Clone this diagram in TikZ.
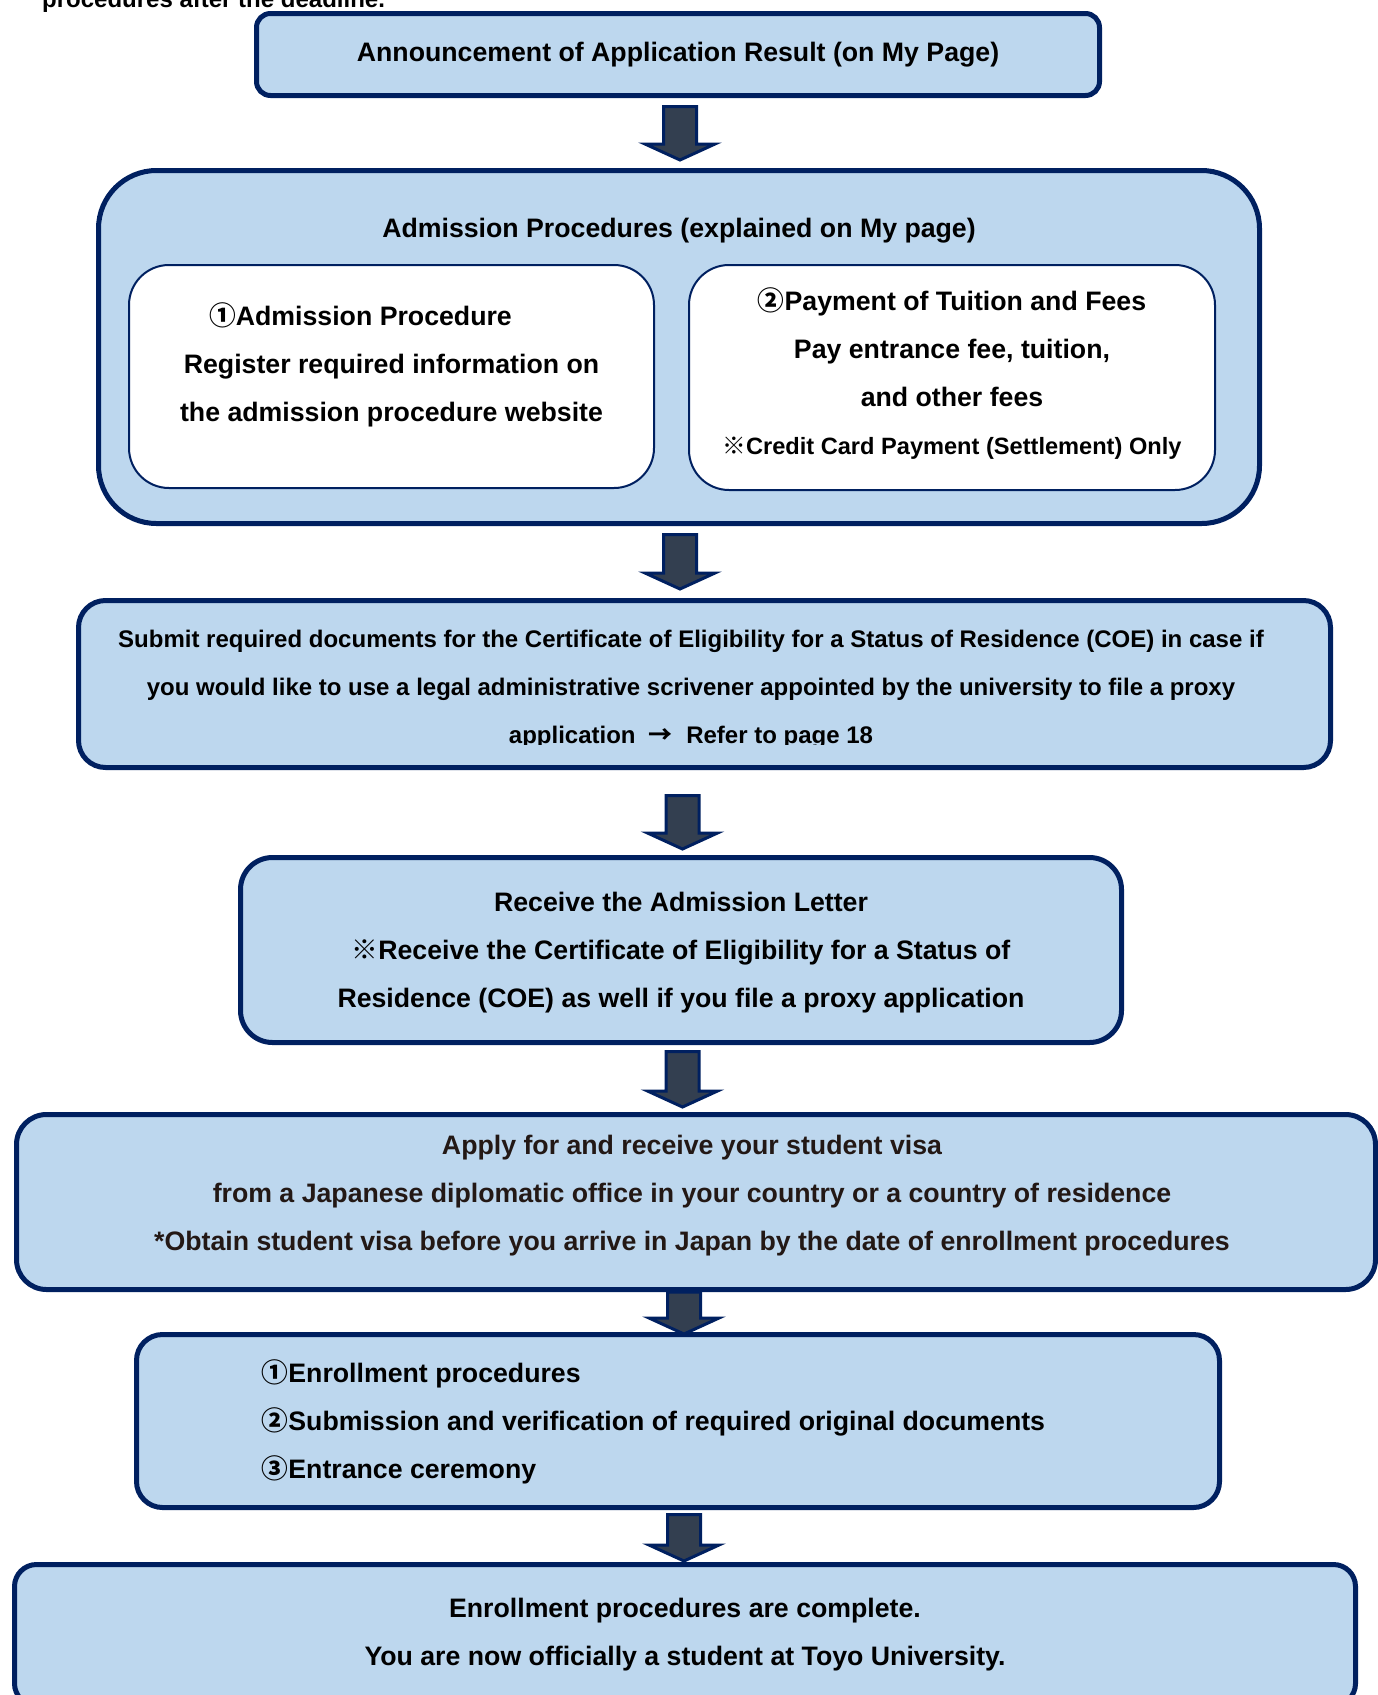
\documentclass[tikz,border=0pt]{standalone}
\usepackage{fontspec}
\setmainfont{Liberation Sans}
\newfontfamily\cjk{Noto Sans CJK JP}
\usetikzlibrary{calc}

\definecolor{boxfill}{HTML}{BDD7EE}
\definecolor{boxline}{HTML}{002060}
\definecolor{arrowfill}{HTML}{333F50}
\definecolor{inktext}{HTML}{231815}

\newcommand\bigtext{\fontsize{26.7}{48}\selectfont\bfseries}
\newcommand\smalltext{\fontsize{23.6}{48}\selectfont\bfseries}
\newcommand\coefont{\fontsize{24}{48}\selectfont\bfseries}
\newcommand\kome{{\cjk ※}}
\newcommand\circnum[1]{{\cjk #1}}

% block arrow between two boxes: upper, lower, x of shaft, gap above, gap below
\newcommand\flowarrow[5]{%
  \draw[blockarrow] let \p1=(#1.south), \p2=(#2.north) in
    (#3pt-16.5pt,\y1-#4pt) -- (#3pt+16.5pt,\y1-#4pt) -- (#3pt+16.5pt,\y2+#5pt+16pt)
    -- (#3pt+35pt,\y2+#5pt+16pt) -- (#3pt,\y2+#5pt) -- (#3pt-35pt,\y2+#5pt+16pt)
    -- (#3pt-16.5pt,\y2+#5pt+16pt) -- cycle;
}

\tikzset{%
  % Specifications for style of nodes:
       stage/.style = {rectangle, rounded corners=28pt, draw=boxline, fill=boxfill,
                       line width=5pt, text centered, align=center, font=\bigtext},
  innerstage/.style = {rectangle, rounded corners=40pt, draw=boxline, fill=white,
                       line width=2pt, text centered, align=center, font=\bigtext},
        note/.style = {align=center, font=\bigtext, inner sep=0pt},
  blockarrow/.style = {draw=boxline, fill=arrowfill, line width=3pt, line join=miter}
}

\begin{document}
\begin{tikzpicture}[x=1pt, y=-1pt]
  \useasboundingbox (0,0) rectangle (1378,1695);

  \node (deadline) [note, anchor=base west, font=\fontsize{24}{48}\selectfont\bfseries] at (42,7) {procedures after the deadline.};

  \node (result) [stage, rounded corners=14pt, minimum width=843pt, minimum height=82pt] at (678,54.5)
    {Announcement of Application Result (on My Page)};

  % admission procedures with its two parts
  \node (procedures) [stage, rounded corners=58pt, minimum width=1161pt, minimum height=353pt] at (679,347) {};
  \node (procedurestitle) [note] at (679,231) {Admission Procedures (explained on My page)};
  \node (register) [innerstage, minimum width=525pt, minimum height=223pt] at (391.5,376.5) {};
  \node (registertext) [note] at (391.5,364.5)
    {\circnum{①}Admission Procedure\makebox[62pt]{}\\Register required information on\\the admission procedure website};
  \node (payment) [innerstage, minimum width=526pt, minimum height=225pt] at (952,377.5) {};
  \node (paymenttext) [note] at (952,374)
    {\circnum{②}Payment of Tuition and Fees\\Pay entrance fee, tuition,\\and other fees\\{\smalltext\kome Credit Card Payment (Settlement) Only}};

  \node (coe) [stage, rounded corners=27pt, minimum width=1252pt, minimum height=167pt] at (704.5,684) {};
  \begin{scope}
    \clip (coe.north west) rectangle ($(coe.south east)+(0,-25.5)$);
    \node (coetext) [note, font=\coefont] at (691,689)
      {Submit required documents for the Certificate of Eligibility for a Status of Residence (COE) in case if\\
       you would like to use a legal administrative scrivener appointed by the university to file a proxy\\
       application \ {\cjk →}\ \ Refer to page 18};
  \end{scope}

  \node (letter) [stage, rounded corners=32pt, minimum width=881pt, minimum height=185pt] at (681,950) {};
  \node (lettertext) [note] at (681,952.5)
    {Receive the Admission Letter\\\kome Receive the Certificate of Eligibility for a Status of\\Residence (COE) as well if you file a proxy application};

  \node (visa) [stage, rounded corners=30pt, minimum width=1359pt, minimum height=175pt] at (696,1202) {};
  \node (visatext) [note, text=inktext] at (692,1195.6)
    {Apply for and receive your student visa\\from a Japanese diplomatic office in your country or a country of residence\\*Obtain student visa before you arrive in Japan by the date of enrollment procedures};

  \node (enrolment) [stage, rounded corners=26pt, minimum width=1083pt, minimum height=173pt] at (678,1421) {};
  \node (enrolmenttext) [note, align=left, anchor=west] at (261.5,1422)
    {\circnum{①}Enrollment procedures\\\circnum{②}Submission and verification of required original documents\\\circnum{③}Entrance ceremony};

  \node (complete) [stage, rounded corners=22pt, minimum width=1341pt, minimum height=141pt] at (685,1635)
    {Enrollment procedures are complete.\\You are now officially a student at Toyo University.};

  \flowarrow{result}{procedures}{680}{8.5}{8}
  \flowarrow{procedures}{coe}{680}{8.5}{9}
  \flowarrow{coe}{letter}{682.5}{25.5}{6}
  \flowarrow{letter}{visa}{682.5}{6.5}{5}
  \flowarrow{visa}{enrolment}{684}{0}{-2}
  \flowarrow{enrolment}{complete}{684}{4.5}{1}
\end{tikzpicture}
\end{document}
